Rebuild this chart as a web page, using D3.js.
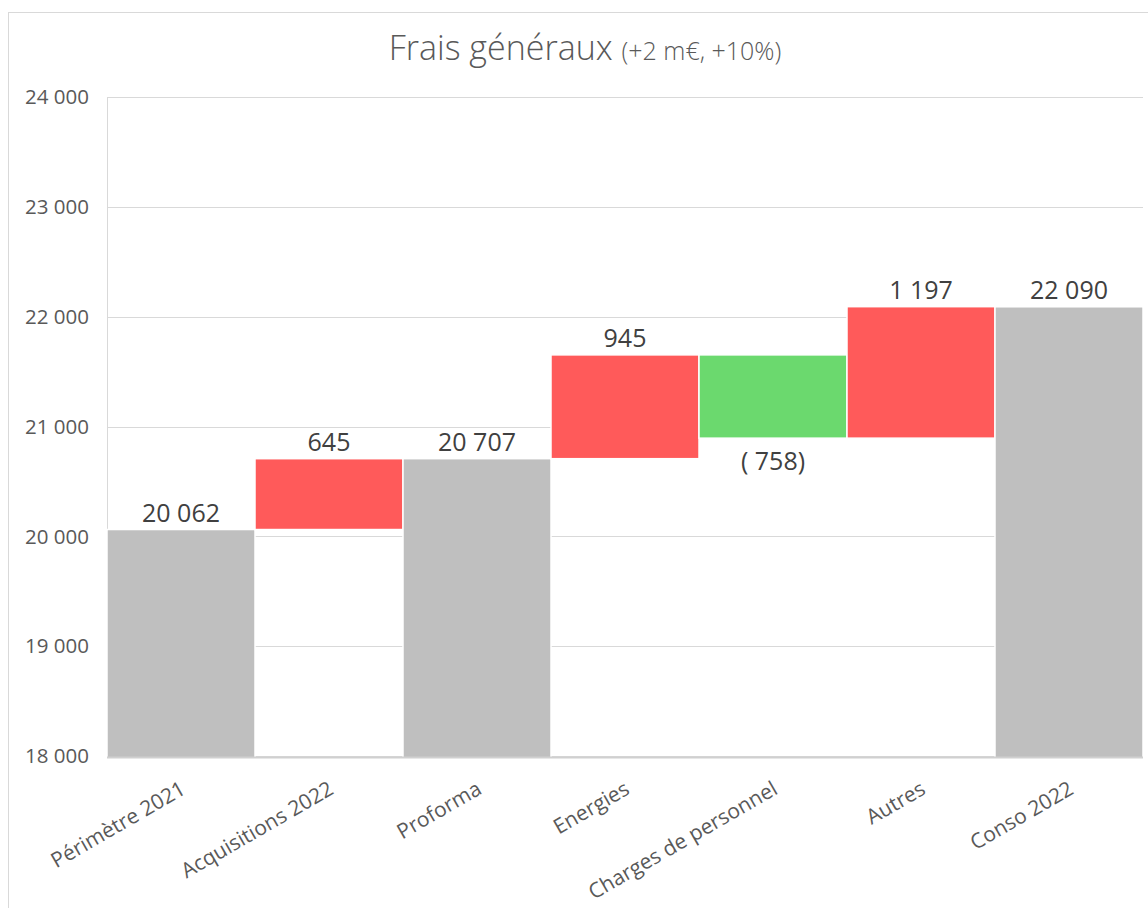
<!DOCTYPE html>
<html>
<head>
<meta charset="utf-8">
<script src="https://cdn.jsdelivr.net/npm/d3@7"></script>
<style>
  body { margin: 0; background: #fff; }
  svg { font-family: "Open Sans", "Noto Sans", sans-serif; }
</style>
</head>
<body>
<svg width="1148" height="908"></svg>
<script>
var categories = ["Périmètre 2021", "Acquisitions 2022", "Proforma", "Energies", "Charges de personnel", "Autres", "Conso 2022"];
var values = [20062, 645, 20707, 945, -758, 1197, 22090];
var kinds = ["total", "delta", "total", "delta", "delta", "delta", "total"];
var yTicks = [18000, 19000, 20000, 21000, 22000, 23000, 24000];

var colors = { total: "#bfbfbf", up: "#ff5a5a", down: "#6bd96e" };

var locale = d3.formatLocale({ decimal: ",", thousands: "\u00a0", grouping: [3], currency: ["", " €"] });
var fmt = locale.format(",d");

function label(v) {
    return v < 0 ? "(\u00a0" + fmt(-v) + ")" : fmt(v);
}

// build waterfall steps
var running = 0;
var bars = categories.map((c, i) => {
    var v = values[i];
    var b;
    if (kinds[i] == "total") {
        b = { name: c, y0: 18000, y1: v, v: v, color: colors.total };
        running = v;
    } else {
        b = { name: c, y0: running, y1: running + v, v: v, color: v < 0 ? colors.down : colors.up };
        running += v;
    }
    return b;
});

var svg = d3.select("svg");

// chart border
svg.append("rect")
    .attr("x", 8.5).attr("y", 12.5)
    .attr("width", 1150).attr("height", 900)
    .attr("fill", "none").attr("stroke", "#d9d9d9");

var margin = { left: 107, right: 1143, top: 97, bottom: 756 };

var x = d3.scaleBand()
    .domain(categories)
    .range([margin.left, margin.right])
    .padding(0);

var y = d3.scaleLinear()
    .domain([18000, 24000])
    .range([margin.bottom, margin.top]);

// gridlines
svg.append("g")
    .selectAll("line")
    .data(yTicks)
    .enter()
    .append("line")
    .attr("x1", margin.left).attr("x2", margin.right)
    .attr("y1", d => Math.round(y(d)) + 0.5)
    .attr("y2", d => Math.round(y(d)) + 0.5)
    .attr("stroke", "#d9d9d9");

// y axis line
svg.append("line")
    .attr("x1", margin.left + 0.5).attr("x2", margin.left + 0.5)
    .attr("y1", margin.top).attr("y2", margin.bottom)
    .attr("stroke", "#d9d9d9");

// y tick labels
svg.append("g")
    .selectAll("text")
    .data(yTicks)
    .enter()
    .append("text")
    .attr("x", 89)
    .attr("y", d => y(d))
    .attr("dy", "0.35em")
    .attr("text-anchor", "end")
    .attr("font-size", 20.5)
    .attr("fill", "#595959")
    .text(d => fmt(d));

// bars
svg.append("g")
    .selectAll("rect")
    .data(bars)
    .enter()
    .append("rect")
    .attr("x", d => x(d.name))
    .attr("width", x.bandwidth())
    .attr("y", d => y(Math.max(d.y0, d.y1)))
    .attr("height", d => Math.abs(y(d.y0) - y(d.y1)) + (d.y0 == 18000 ? 2 : 0))
    .attr("fill", d => d.color)
    .attr("stroke", "#fff")
    .attr("stroke-width", 1.5);

// x axis line
svg.append("line")
    .attr("x1", margin.left).attr("x2", margin.right)
    .attr("y1", margin.bottom + 1.5).attr("y2", margin.bottom + 1.5)
    .attr("stroke", "#d0d0d0").attr("stroke-width", 2);

// value labels
svg.append("g")
    .selectAll("text")
    .data(bars)
    .enter()
    .append("text")
    .attr("x", d => x(d.name) + x.bandwidth() / 2)
    .attr("y", d => d.v < 0 ? y(Math.min(d.y0, d.y1)) + 32 : y(Math.max(d.y0, d.y1)) - 8)
    .attr("text-anchor", "middle")
    .attr("font-size", 25)
    .attr("fill", "#404040")
    .text(d => label(d.v));

// category labels
svg.append("g")
    .selectAll("text")
    .data(categories)
    .enter()
    .append("text")
    .attr("transform", d => `translate(${x(d) + x.bandwidth() / 2 + 6}, ${margin.bottom + 37}) rotate(-30)`)
    .attr("text-anchor", "end")
    .attr("font-size", 21)
    .attr("fill", "#595959")
    .text(d => d);

// title
var title = svg.append("text")
    .attr("x", 585)
    .attr("y", 60)
    .attr("text-anchor", "middle")
    .attr("fill", "#595959");
title.append("tspan")
    .attr("font-size", 34)
    .attr("font-weight", 300)
    .text("Frais généraux ");
title.append("tspan")
    .attr("font-size", 25)
    .attr("font-weight", 300)
    .text("(+2 m€, +10%)");
</script>
</body>
</html>
